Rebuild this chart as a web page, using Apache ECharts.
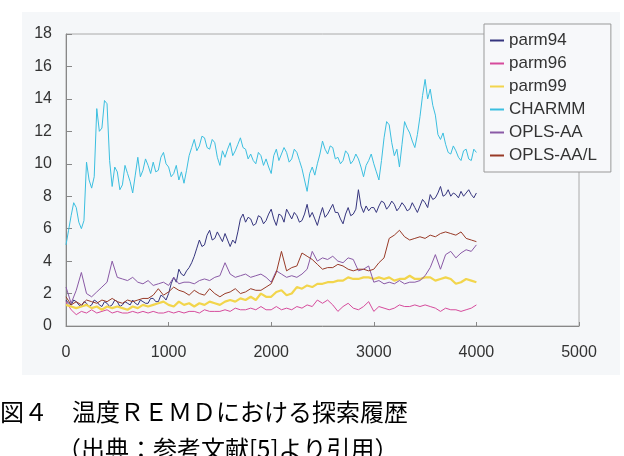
<!DOCTYPE html>
<html>
<head>
<meta charset="utf-8">
<script src="https://cdn.jsdelivr.net/npm/echarts@6/dist/echarts.min.js"></script>
<style>
  html, body { margin: 0; padding: 0; background: #fff; }
  #chart { width: 624px; height: 456px; }
</style>
</head>
<body>
<div id="chart"></div>
<script>
// sample positions (steps): fine = every 25, coarse = every 50
const stepsFine = Array.from({length: 161}, (_, i) => i * 25);
const stepsCoarse = Array.from({length: 81}, (_, i) => i * 50);

const seriesNames = ['parm94', 'parm96', 'parm99', 'CHARMM', 'OPLS-AA', 'OPLS-AA/L'];
const xTicks = [0, 1000, 2000, 3000, 4000, 5000];
const yTicks = [0, 2, 4, 6, 8, 10, 12, 14, 16, 18];

// every 25 steps
const parm94 = [
  1.6, 1.4, 1.3, 1.6, 1.5, 1.3, 1.2, 1.5, 1.4, 1.2, 1.3, 1.6, 1.5, 1.3, 1.2, 1.5, 1.4, 1.2, 1.3, 1.6,
  1.5, 1.2, 1.3, 1.5, 1.4, 1.3, 1.6, 1.4, 1.3, 1.6, 1.5, 1.4, 1.4, 1.7, 1.7, 1.5, 1.5, 1.9, 1.8, 1.6,
  2.0, 2.6, 3.0, 2.7, 3.5, 3.2, 3.1, 3.4, 3.6, 3.9, 4.3, 4.8, 5.3, 4.9, 5.0, 5.6, 5.9, 5.3, 5.4, 5.8,
  5.5, 5.2, 5.7, 5.3, 4.9, 5.3, 5.1, 5.8, 6.6, 6.9, 6.4, 6.7, 6.6, 6.2, 6.3, 6.8, 6.7, 6.3, 6.5, 6.9,
  7.2, 6.6, 6.2, 6.9, 6.8, 6.4, 7.2, 6.9, 6.6, 7.0, 6.8, 6.4, 6.5, 6.9, 7.5, 6.7, 7.0, 6.6, 6.2, 6.8,
  7.3, 6.7, 6.9, 7.2, 7.5, 7.0, 7.0, 6.6, 6.3, 6.9, 7.3, 6.8, 6.9, 7.2, 8.4, 7.4, 7.0, 7.4, 7.1, 7.3,
  7.3, 7.0, 7.4, 7.7, 7.6, 7.2, 7.4, 7.7, 7.5, 7.1, 7.3, 7.6, 7.4, 7.1, 7.2, 7.6, 7.3, 7.0, 7.4, 7.8,
  7.6, 7.3, 8.1, 7.8, 7.9, 8.2, 8.6, 8.0, 8.1, 8.4, 8.0, 8.2, 8.1, 7.9, 8.3, 8.0, 8.2, 8.4, 8.1, 7.9,
  8.2
];
// every 25 steps
const charmm = [
  5.0, 5.9, 6.8, 7.6, 7.3, 6.4, 6.0, 6.5, 10.1, 9.0, 8.5, 9.2, 13.4, 12.0, 12.2, 13.9, 13.7, 10.2, 8.6, 9.8,
  9.5, 8.4, 8.7, 9.9, 9.4, 8.9, 8.2, 9.3, 10.4, 9.2, 9.6, 10.3, 9.9, 9.4, 10.1, 9.5, 9.6, 10.4, 10.7, 10.0,
  9.8, 9.2, 9.4, 9.9, 9.0, 9.5, 8.8, 9.6, 10.5, 11.0, 11.5, 10.8, 11.1, 11.7, 11.6, 11.0, 10.9, 11.5, 11.3, 10.4,
  9.9, 10.8, 10.4, 10.9, 11.3, 10.5, 10.8, 11.2, 11.6, 11.0, 10.9, 10.3, 10.6, 10.2, 10.0, 10.7, 10.5, 9.9, 10.3, 9.8,
  9.4, 10.5, 10.9, 10.2, 10.6, 11.0, 10.7, 10.1, 10.3, 10.9, 10.7, 10.2, 9.7, 9.0, 8.3, 9.4, 9.8, 9.3, 10.0, 10.6,
  11.4, 10.9, 10.6, 11.1, 11.0, 10.3, 10.4, 10.0, 10.2, 10.8, 10.6, 10.0, 10.2, 10.6, 10.3, 9.8, 9.2, 9.9, 10.2, 10.6,
  10.0, 9.5, 9.0, 10.2, 11.6, 12.6, 12.4, 11.3, 10.5, 10.9, 9.8, 11.2, 12.6, 12.2, 11.9, 11.4, 11.0, 11.8, 12.9, 14.2,
  15.2, 14.0, 14.6, 13.6, 13.0, 11.8, 11.5, 11.9, 11.2, 10.7, 10.6, 11.1, 10.8, 10.4, 10.2, 10.8, 10.9, 10.3, 10.2, 10.9,
  10.7
];
// every 50 steps
const parm96 = [
  1.5, 1.0, 0.7, 0.9, 0.8, 1.0, 0.8, 0.9, 1.0, 0.8,
  0.9, 0.8, 0.8, 0.9, 0.8, 0.9, 0.8, 0.9, 0.8, 0.8,
  0.9, 0.8, 0.9, 0.8, 0.9, 0.9, 0.8, 1.0, 0.9, 0.9,
  0.9, 1.0, 0.9, 1.1, 1.0, 1.0, 1.1, 1.0, 1.2, 1.0,
  1.0, 1.2, 1.0, 1.1, 1.0, 1.2, 1.1, 1.3, 1.2, 1.6,
  1.4, 1.6, 1.3, 0.9, 1.2, 1.4, 1.1, 1.0, 1.2, 1.5,
  0.9, 1.2, 1.1, 1.0, 1.1, 1.3, 1.2, 1.2, 1.3, 1.2,
  1.3, 1.2, 1.1, 0.9, 1.1, 1.0, 1.0, 0.9, 1.0, 1.1,
  1.3
];
const parm99 = [
  1.3, 1.2, 1.1, 1.2, 1.3, 1.1, 1.2, 1.0, 1.2, 1.1,
  1.2, 1.1, 1.0, 1.2, 1.1, 1.3, 1.2, 1.3, 1.4, 1.5,
  1.3, 1.2, 1.5, 1.3, 1.4, 1.2, 1.4, 1.3, 1.5, 1.4,
  1.3, 1.5, 1.6, 1.5, 1.7, 1.6, 1.8, 1.6, 2.0, 1.8,
  1.8, 2.1, 2.2, 1.9, 2.0, 2.4, 2.3, 2.5, 2.4, 2.6,
  2.6, 2.7, 2.7, 2.8, 2.8, 3.0, 2.9, 2.9, 3.0, 3.0,
  2.9, 3.0, 2.9, 3.0, 2.8, 2.9, 2.9, 3.1, 2.9, 2.9,
  3.0, 3.0, 2.8, 2.9, 3.0, 2.9, 2.6, 2.7, 2.9, 2.8,
  2.7
];
const oplsAA = [
  2.4, 1.4, 2.2, 3.3, 2.0, 1.8, 2.1, 2.4, 2.7, 4.0,
  3.0, 2.9, 2.8, 3.0, 2.7, 2.6, 2.8, 2.5, 2.6, 2.7,
  2.5, 3.0, 2.6, 2.7, 2.7, 2.6, 2.8, 2.9, 2.8, 3.0,
  3.1, 3.9, 3.2, 3.0, 3.1, 3.2, 3.0, 3.1, 3.2, 3.0,
  2.7, 3.4, 3.2, 3.0, 3.1, 3.0, 3.2, 3.5, 4.6, 4.0,
  4.2, 4.1, 4.3, 4.0, 3.9, 4.2, 4.1, 3.4, 3.5, 3.7,
  2.7, 2.8, 2.6, 2.7, 2.6, 2.8, 2.6, 2.7, 2.7, 2.8,
  3.1, 3.6, 4.4, 3.5, 4.4, 4.6, 4.2, 4.5, 4.7, 4.6,
  5.0
];
const oplsAAL = [
  1.8, 1.3, 1.5, 1.3, 1.6, 1.5, 1.4, 1.6, 1.5, 1.7,
  1.5, 1.4, 1.6, 1.5, 1.6, 1.7, 1.7, 1.9, 2.3, 1.9,
  2.1, 2.4, 2.2, 2.1, 1.9, 2.2, 2.0, 1.9, 2.3, 2.0,
  1.8, 2.0, 2.1, 2.3, 2.0, 2.1, 2.3, 2.2, 2.2, 2.4,
  2.6, 3.3, 4.6, 3.4, 3.6, 3.7, 4.5, 4.3, 4.1, 3.8,
  3.5, 3.6, 3.6, 3.8, 3.7, 3.5, 3.4, 3.5, 3.5, 3.4,
  3.5, 3.9, 4.2, 5.4, 5.6, 5.9, 5.5, 5.3, 5.4, 5.5,
  5.4, 5.6, 5.5, 5.7, 5.8, 5.7, 5.6, 5.8, 5.4, 5.3,
  5.2
];

const seriesValues = [parm94, parm96, parm99, charmm, oplsAA, oplsAAL];
const colors = ['#35357e', '#d64b9c', '#f2d54c', '#3bbfe0', '#8a5aa6', '#983a27'];

const chart = echarts.init(document.getElementById('chart'));

let series = seriesNames.map((name, k) => {
  let vals = seriesValues[k],
      xs = vals.length === stepsFine.length ? stepsFine : stepsCoarse;
  return {
    name: name,
    type: 'line',
    showSymbol: false,
    symbol: 'none',
    lineStyle: { width: k === 2 ? 2.2 : 1, color: colors[k] },
    itemStyle: { color: colors[k] },
    data: xs.map((s, i) => [s, vals[i]])
  };
});

let option = {
  animation: false,
  backgroundColor: '#fff',
  graphic: [
    {
      type: 'rect', z: -10, silent: true,
      shape: { x: 22, y: 12, width: 598, height: 363 },
      style: { fill: '#f5f7f9' }
    },
    {
      type: 'text', left: 0, top: 400,
      style: { text: '図４　温度ＲＥＭＤにおける探索履歴', fontSize: 24, fill: '#000',
        fontFamily: '"Noto Sans CJK JP", sans-serif' }
    },
    {
      type: 'text', left: 57, top: 437,
      style: { text: '（出典：参考文献[5]より引用）', fontSize: 24, fill: '#000',
        fontFamily: '"Noto Sans CJK JP", sans-serif' }
    }
  ],
  grid: {
    left: 66, top: 34, right: 45, bottom: 130,
    show: true, borderColor: '#aaa', borderWidth: 1, backgroundColor: 'transparent'
  },
  legend: {
    data: seriesNames,
    orient: 'vertical',
    left: 484, top: 24,
    padding: [8, 14, 8, 6],
    itemGap: 6,
    itemWidth: 14, itemHeight: 2,
    icon: 'rect',
    backgroundColor: '#f7f8fa',
    borderColor: '#999', borderWidth: 1,
    textStyle: { fontSize: 17, lineHeight: 16, color: '#333', fontFamily: '"Liberation Sans", sans-serif' }
  },
  xAxis: {
    type: 'value', min: 0, max: 5000, interval: 1000,
    axisLine: { lineStyle: { color: '#888' } },
    axisTick: { inside: true, length: 4, lineStyle: { color: '#888' } },
    splitLine: { show: false },
    axisLabel: { margin: 19, fontSize: 16, color: '#333', fontFamily: '"Liberation Sans", sans-serif',
      formatter: v => xTicks.indexOf(v) >= 0 ? String(v) : '' }
  },
  yAxis: {
    type: 'value', min: 0, max: 18, interval: 2,
    axisLine: { show: true, lineStyle: { color: '#888' } },
    axisTick: { show: true, inside: true, length: 6, lineStyle: { color: '#888' } },
    splitLine: { show: false },
    axisLabel: { margin: 14, fontSize: 16, color: '#333', fontFamily: '"Liberation Sans", sans-serif',
      formatter: v => yTicks.indexOf(v) >= 0 ? String(v) : '' }
  },
  series: series
};

chart.setOption(option);
</script>
</body>
</html>
